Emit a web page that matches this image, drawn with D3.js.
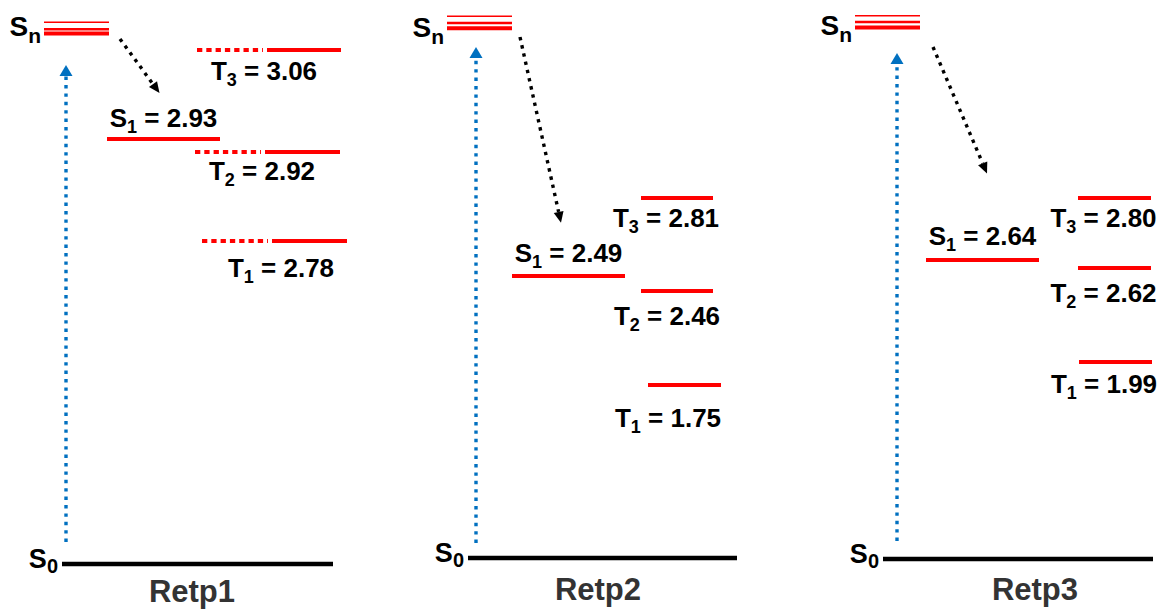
<!DOCTYPE html>
<html><head><meta charset="utf-8">
<script src="https://cdn.jsdelivr.net/npm/d3@7"></script>
<style>
body{margin:0;background:#fff}
svg{display:block}
text{font-family:"Liberation Sans",Arial,sans-serif;font-weight:bold}
</style>
</head><body>
<svg id="chart" width="1162" height="610"></svg>
<script>
// ---- data ----
const compounds  = ["Retp1", "Retp2", "Retp3"];
const s1Energies = [2.93, 2.49, 2.64];
const t1Energies = [2.78, 1.75, 1.99];
const t2Energies = [2.92, 2.46, 2.62];
const t3Energies = [3.06, 2.81, 2.80];
const tripletNames = ["T1", "T2", "T3"];
const showDottedTriplets = [true, false, false];

// ---- schematic layout (diagram is not to scale) ----
const layouts = [
  { levelY:[564,241,152,139,50], s0:[62,333], sn:[44,109], snY:[22.2,29.3,33.5], snLabelY:36,
    excite:{x:66,y1:542,y2:65}, relax:[[120,39],[159.5,93]], s1:[107,220], s1Dy:-12,
    trip:[[202,272,347],[195,265,340],[197,267,341]], tDx:[6.5,-5.5,-5], tDy:[36,28,30],
    titleX:192, titleY:602 },
  { levelY:[558,385,291,276,198], s0:[468,737], sn:[447,512], snY:[16.2,23,28.3], snLabelY:37,
    excite:{x:476,y1:543,y2:47}, relax:[[520,37],[561,222.7]], s1:[512,625], s1Dy:-14,
    trip:[[648,648,721],[641,641,713],[641,641,713]], tDx:[-16.5,-10,-11], tDy:[42,34,29],
    titleX:598, titleY:600 },
  { levelY:[559,362,268,260,198], s0:[883,1153], sn:[855,920], snY:[15.7,22,27.5], snLabelY:35,
    excite:{x:897,y1:541,y2:53}, relax:[[933,47],[987,173.5]], s1:[926,1039], s1Dy:-15,
    trip:[[1079,1079,1152],[1078,1078,1151],[1078,1078,1151]], tDx:[-11.5,-11,-11], tDy:[31,34,29],
    titleX:1035, titleY:600 }
];

const RED = "#ff0000", BLUE = "#0070c0";
const svg = d3.select("#chart");

function arrow(g, x1, y1, x2, y2, color, headLen, headW) {
  const dx = x2 - x1, dy = y2 - y1, L = Math.hypot(dx, dy);
  const ux = dx / L, uy = dy / L;
  const bx = x2 - ux * headLen, by = y2 - uy * headLen;
  g.append("line").attr("x1", x1).attr("y1", y1).attr("x2", bx).attr("y2", by)
    .attr("stroke", color).attr("stroke-width", 3.4).attr("stroke-dasharray", "3.4 5");
  const px = -uy * headW / 2, py = ux * headW / 2;
  g.append("path").attr("d", `M${x2},${y2}L${bx + px},${by + py}L${bx - px},${by - py}Z`).attr("fill", color);
}

function subLabel(g, x, y, main, sub, rest, fs, sfs, sdy, anchor) {
  const t = g.append("text").attr("x", x).attr("y", y).attr("text-anchor", anchor)
    .attr("font-size", fs).attr("fill", "#000");
  t.append("tspan").text(main);
  t.append("tspan").attr("font-size", sfs).attr("dy", sdy).text(sub);
  if (rest) t.append("tspan").attr("dy", -sdy).text(rest);
  return t;
}

compounds.forEach((name, i) => {
  const L = layouts[i];
  const g = svg.append("g");
  const tE = [t1Energies[i], t2Energies[i], t3Energies[i]];
  // energy -> vertical position (schematic, piecewise)
  const y = d3.scaleLinear()
    .domain([0, t1Energies[i], t2Energies[i], s1Energies[i], t3Energies[i]])
    .range(L.levelY);

  // S0 ground state
  const y0 = y(0);
  g.append("line").attr("x1", L.s0[0]).attr("x2", L.s0[1]).attr("y1", y0).attr("y2", y0)
    .attr("stroke", "#000").attr("stroke-width", 4.5);
  subLabel(g, L.s0[0] - 4, y0 + 4, "S", "0", null, 27, 20, 5, "end");

  // Sn manifold
  [1.6, 2.6, 4].forEach((w, k) => {
    g.append("line").attr("x1", L.sn[0]).attr("x2", L.sn[1]).attr("y1", L.snY[k]).attr("y2", L.snY[k])
      .attr("stroke", RED).attr("stroke-width", w);
  });
  subLabel(g, L.sn[0] - 3, L.snLabelY, "S", "n", null, 28, 21, 7, "end");

  // S1
  const ys1 = y(s1Energies[i]);
  g.append("line").attr("x1", L.s1[0]).attr("x2", L.s1[1]).attr("y1", ys1).attr("y2", ys1)
    .attr("stroke", RED).attr("stroke-width", 4);
  subLabel(g, (L.s1[0] + L.s1[1]) / 2, ys1 + L.s1Dy, "S", "1", " = " + s1Energies[i].toFixed(2), 26, 18, 6, "middle");

  // triplets
  tE.forEach((e, k) => {
    const yt = y(e), [xd, xs, xe] = L.trip[k];
    if (showDottedTriplets[i]) {
      g.append("line").attr("x1", xd).attr("x2", xs - 4).attr("y1", yt).attr("y2", yt)
        .attr("stroke", RED).attr("stroke-width", 4).attr("stroke-dasharray", "5.3 4");
    }
    g.append("line").attr("x1", xs).attr("x2", xe).attr("y1", yt).attr("y2", yt)
      .attr("stroke", RED).attr("stroke-width", 4);
    subLabel(g, (xd + xe) / 2 + L.tDx[k], yt + L.tDy[k], "T", tripletNames[k].slice(1), " = " + e.toFixed(2), 26, 18, 6, "middle");
  });

  // excitation and relaxation arrows
  arrow(g, L.excite.x, L.excite.y1, L.excite.x, L.excite.y2, BLUE, 11, 13);
  arrow(g, L.relax[0][0], L.relax[0][1], L.relax[1][0], L.relax[1][1], "#000", 11, 10);

  // compound title
  g.append("text").attr("x", L.titleX).attr("y", L.titleY).attr("text-anchor", "middle")
    .attr("font-size", 31).attr("fill", "#333").text(name);
});
</script>
</body></html>
